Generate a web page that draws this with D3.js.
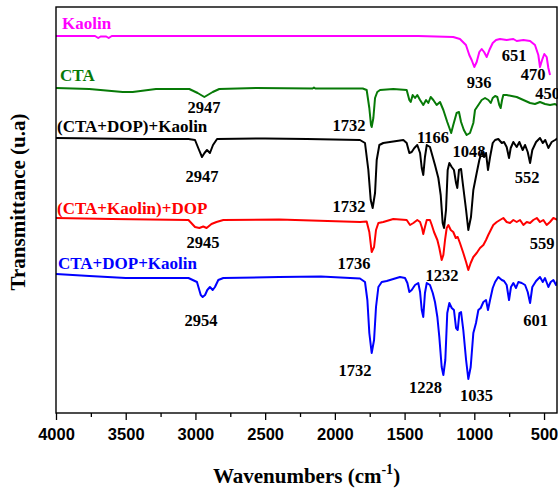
<!DOCTYPE html>
<html>
<head>
<meta charset="utf-8">
<script src="https://cdn.jsdelivr.net/npm/d3@7"></script>
<style>
  html, body { margin: 0; padding: 0; background: #fff; }
  svg { display: block; }
</style>
</head>
<body>
<div id="chart"></div>
<script>
// FTIR spectra, stacked (transmittance in arbitrary units)
const kaolin = [
  [4000,37.7],[3760,37.7],[3720,37.7],[3697,37.5],[3680,37.65],[3640,37.65],[3622,37.5],[3600,37.7],
  [3000,37.7],[2000,37.7],[1400,37.7],[1151,37.6],[1103,37.4],[1060,36.8],[1036,35.8],[1019,35.3],
  [1000,34.6],[983,35.1],[964,36.1],[947,36.4],[930,36.1],[911,35.6],[892,36.3],[868,37.0],[844,37.3],
  [816,37.4],[768,37.3],[720,37.4],[696,37.2],[648,37.3],[600,37.2],[565,36.8],[541,35.8],[529,34.6],
  [514,35.3],[498,35.9],[481,35.6],[469,34.5],[457,33.8]
];
const cta = [
  [4000,32.5],[3761,32.4],[3522,32.1],[3450,32.1],[3283,32.4],[3044,32.4],[2984,32.0],[2936,31.6],
  [2912,31.8],[2876,32.1],[2829,32.4],[2566,32.5],[2160,32.45],[2150,32.55],[2140,32.45],[1800,32.45],
  [1772,32.3],[1753,30.5],[1741,28.8],[1736,28.6],[1724,29.5],[1712,31.5],[1696,32.1],[1676,32.3],
  [1581,32.4],[1485,32.3],[1466,31.3],[1456,31.1],[1442,31.8],[1425,31.5],[1409,31.8],[1389,31.3],
  [1366,30.8],[1346,31.3],[1330,31.0],[1313,31.6],[1294,31.3],[1270,30.8],[1246,31.1],[1222,30.3],
  [1194,29.1],[1166,28.0],[1151,28.8],[1127,30.0],[1110,30.1],[1095,29.1],[1075,28.3],[1055,27.8],
  [1031,28.0],[1007,29.0],[995,30.3],[971,30.8],[947,31.3],[923,31.5],[899,31.3],[882,31.0],
  [868,31.5],[851,31.7],[835,31.6],[821,30.8],[811,30.5],[801,31.3],[792,31.8],[768,31.8],[732,31.7],
  [696,31.6],[648,31.3],[600,31.0],[565,30.9],[529,31.1],[493,30.9],[457,30.8],[421,30.9],[400,30.7]
];
const ctaDopKaolin = [
  [4000,27.5],[3700,27.45],[3400,27.4],[3050,27.4],[3003,27.3],[2974,26.3],[2953,25.6],[2935,26.0],
  [2917,26.3],[2896,26.0],[2874,26.8],[2845,27.4],[2500,27.45],[2200,27.4],[1820,27.3],[1784,27.0],
  [1760,24.3],[1743,21.3],[1729,20.5],[1712,22.0],[1700,25.3],[1681,26.8],[1653,27.0],[1605,27.1],
  [1557,27.2],[1509,27.3],[1485,27.0],[1466,26.0],[1449,26.1],[1430,26.5],[1409,26.8],[1389,26.0],
  [1377,24.5],[1366,23.8],[1354,25.6],[1341,26.8],[1318,26.6],[1298,25.6],[1282,24.8],[1258,23.5],
  [1241,21.8],[1227,19.0],[1217,18.5],[1203,20.3],[1191,24.3],[1179,25.0],[1162,24.6],[1146,24.3],
  [1131,23.0],[1122,22.5],[1110,24.3],[1095,24.4],[1083,23.0],[1059,20.3],[1043,18.3],[1024,19.6],
  [1007,22.3],[983,24.0],[964,25.3],[947,26.1],[930,25.6],[916,26.0],[902,24.3],[887,25.6],[868,27.0],
  [851,27.3],[828,27.4],[803,27.0],[787,27.1],[768,26.6],[751,25.5],[739,26.5],[720,27.1],[696,26.6],
  [677,27.1],[653,26.3],[636,26.8],[617,26.1],[600,25.0],[584,26.3],[557,27.1],[529,27.5],[509,27.0],
  [491,27.3],[469,26.5],[445,27.1],[421,27.3],[400,27.5]
];
const ctaKaolinDop = [
  [4000,19.5],[3600,19.4],[3050,19.3],[3003,18.6],[2972,18.5],[2944,18.65],[2920,18.5],[2885,18.9],
  [2849,19.1],[2800,19.3],[2400,19.35],[1820,19.1],[1772,19.15],[1753,18.1],[1736,16.1],[1719,16.6],
  [1705,18.3],[1688,19.0],[1653,19.1],[1581,19.4],[1485,19.3],[1461,18.8],[1437,19.0],[1409,19.3],
  [1389,19.1],[1375,18.5],[1366,17.9],[1354,18.6],[1341,19.3],[1318,19.3],[1305,18.8],[1289,18.1],
  [1265,17.3],[1251,16.5],[1234,15.3],[1222,15.8],[1210,17.3],[1198,18.5],[1186,18.8],[1169,18.3],
  [1151,18.1],[1133,17.5],[1119,17.6],[1103,17.0],[1079,16.0],[1059,15.1],[1043,14.3],[1026,15.0],
  [1007,15.6],[983,16.0],[959,16.5],[935,16.8],[916,17.3],[900,17.8],[882,18.3],[864,18.8],[839,19.1],
  [816,19.3],[792,19.5],[768,19.1],[744,19.0],[720,19.3],[696,19.1],[672,19.3],[648,18.8],[624,19.1],
  [600,19.0],[577,19.3],[552,19.5],[529,19.1],[505,19.3],[481,18.8],[457,19.1],[433,19.5],[400,19.3]
];
const ctaDopKaolinMix = [
  [4000,13.9],[3760,13.7],[3500,13.5],[3050,13.5],[2989,13.1],[2962,11.8],[2948,11.6],[2931,11.8],
  [2915,12.3],[2896,12.6],[2876,12.3],[2860,12.6],[2836,13.3],[2800,13.5],[2400,13.6],[2100,13.65],
  [1820,13.45],[1784,13.1],[1767,11.3],[1753,8.0],[1736,6.0],[1719,7.3],[1705,10.6],[1688,12.6],
  [1664,13.1],[1628,13.2],[1581,13.4],[1533,13.6],[1497,13.5],[1480,13.0],[1466,12.1],[1449,12.3],
  [1425,12.8],[1402,13.0],[1389,12.1],[1377,10.3],[1366,9.6],[1354,12.0],[1341,13.0],[1318,12.8],
  [1298,12.0],[1282,11.1],[1265,9.6],[1251,7.6],[1234,4.6],[1222,3.8],[1208,5.3],[1194,10.0],
  [1179,11.0],[1162,10.5],[1146,10.3],[1131,8.5],[1119,8.3],[1107,10.0],[1095,10.1],[1079,8.3],
  [1059,5.3],[1043,3.4],[1026,4.6],[1007,8.0],[988,9.0],[971,10.3],[954,10.5],[935,11.1],[916,11.3],
  [902,10.3],[887,11.3],[868,12.5],[851,13.1],[828,13.6],[803,13.3],[787,13.2],[768,12.8],[751,11.3],
  [737,12.6],[720,13.0],[701,12.5],[684,13.1],[660,13.0],[636,12.8],[617,12.1],[600,11.0],[584,12.6],
  [557,13.2],[529,13.6],[509,13.1],[493,13.5],[469,12.6],[452,13.1],[433,13.3],[414,12.8],[400,13.3]
];

const names = ["Kaolin", "CTA", "(CTA+DOP)+Kaolin", "(CTA+Kaolin)+DOP", "CTA+DOP+Kaolin"];
const spectra = [kaolin, cta, ctaDopKaolin, ctaKaolinDop, ctaDopKaolinMix];
// where each name sits (wavenumber, level)
const nameAt = [[3957,38.4],[3971,33.2],[3993,28.1],[3993,19.9],[3986,14.4]];
// peak annotations: text, wavenumber, level
const peaks = [
  ["936",966,32.5],["651",715,35.2],["470",579,33.3],
  ["2947",2939,30.0],["1732",1899,28.2],["1166",1296,27.0],["1048",1038,25.6],["450",475,31.4],
  ["2947",2953,23.1],["1732",1899,20.1],["552",622,23.0],
  ["2945",2946,16.5],["1736",1863,14.4],["1232",1232,13.2],["559",514,16.4],
  ["2954",2960,8.7],["1732",1856,3.7],["1228",1350,2.0],["1035",984,1.2],["601",561,8.7]
];
const majorTicks = [4000,3500,3000,2500,2000,1500,1000,500];
const minorTicks = [3750,3250,2750,2250,1750,1250,750];

const colors = ["#ff00ff", "#077a07", "#000000", "#ff0000", "#0000ff"];
const serif = "'Liberation Serif','Times New Roman',serif";
const sans = "'Liberation Sans',Arial,sans-serif";

const W = 558, H = 488;
const m = { top: 7, right: 1, bottom: 75, left: 56 };
const w = W - m.left - m.right, h = H - m.top - m.bottom;

const svg = d3.select("#chart").append("svg").attr("width", W).attr("height", H)
  .style("background", "#fff");
const g = svg.append("g").attr("transform", `translate(${m.left},${m.top})`);

const x = d3.scaleLinear().domain([4000, 407]).range([0, w]);
const y = d3.scaleLinear().domain([0, 40.6]).range([h, 0]);

g.append("clipPath").attr("id", "plot").append("rect").attr("width", w).attr("height", h);

// ticks (outward, major + minor)
const ax = g.append("g").attr("transform", `translate(0,${h})`)
  .call(d3.axisBottom(x).tickValues(majorTicks).tickSize(7).tickFormat(d3.format("d")));
ax.select(".domain").remove();
ax.selectAll("line").attr("stroke", "#000").attr("stroke-width", 1.3);
ax.selectAll("text").attr("y", 27).attr("dy", 0)
  .style("font-family", sans).style("font-weight", "bold").style("font-size", "16.5px").attr("fill", "#000");
const axm = g.append("g").attr("transform", `translate(0,${h})`)
  .call(d3.axisBottom(x).tickValues(minorTicks).tickSize(4).tickFormat(""));
axm.select(".domain").remove();
axm.selectAll("line").attr("stroke", "#000").attr("stroke-width", 1.3);

// spectra
const line = d3.line().x((d) => x(d[0])).y((d) => y(d[1]));
g.append("g").attr("clip-path", "url(#plot)").selectAll("path").data(spectra).join("path")
  .attr("d", line).attr("fill", "none")
  .attr("stroke", (d, i) => colors[i]).attr("stroke-width", 2)
  .attr("stroke-linejoin", "round");

// frame
g.append("rect").attr("width", w).attr("height", h).attr("fill", "none")
  .attr("stroke", "#000").attr("stroke-width", 1.4);

// sample names
g.selectAll("text.name").data(names).join("text").attr("class", "name")
  .attr("x", (d, i) => x(nameAt[i][0])).attr("y", (d, i) => y(nameAt[i][1]))
  .attr("fill", (d, i) => colors[i])
  .style("font-family", serif).style("font-weight", "bold").style("font-size", "17px")
  .text((d) => d);

// peak numbers
g.selectAll("text.peak").data(peaks).join("text").attr("class", "peak")
  .attr("x", (d) => x(d[1])).attr("y", (d) => y(d[2])).attr("text-anchor", "middle")
  .style("font-family", serif).style("font-weight", "bold").style("font-size", "16.5px")
  .text((d) => d[0]);

// axis titles
svg.append("text").attr("transform", "translate(25,202) rotate(-90)").attr("text-anchor", "middle")
  .style("font-family", serif).style("font-weight", "bold").style("font-size", "21px")
  .text("Transmittance (u.a)");
const xt = svg.append("text").attr("x", m.left + w / 2).attr("y", 483).attr("text-anchor", "middle")
  .style("font-family", serif).style("font-weight", "bold").style("font-size", "21px");
xt.append("tspan").text("Wavenumbers (cm");
xt.append("tspan").attr("dy", -9).style("font-size", "14px").text("-1");
xt.append("tspan").attr("dy", 9).text(")");
</script>
</body>
</html>
